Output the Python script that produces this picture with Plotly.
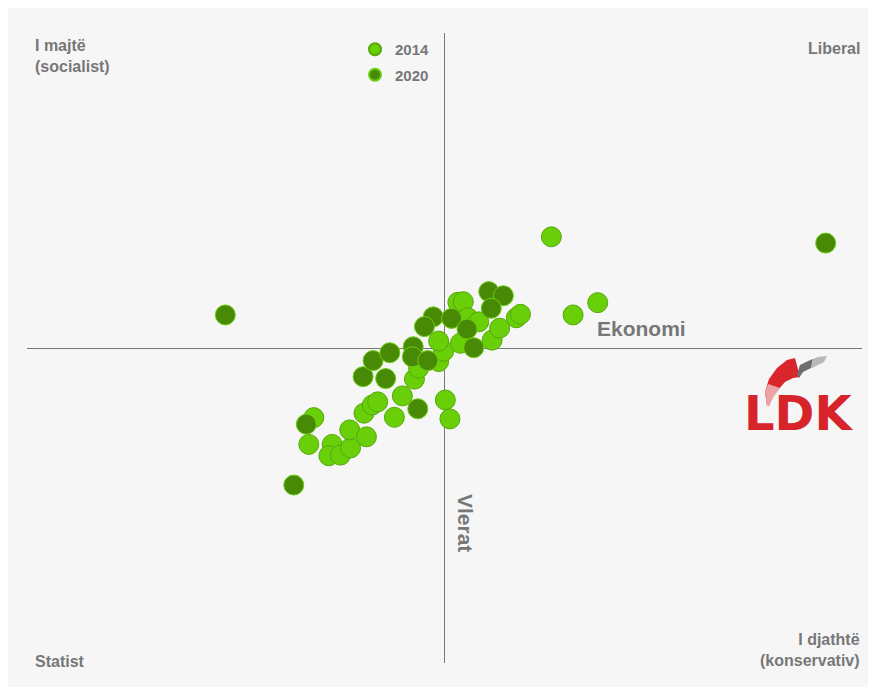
import plotly.graph_objects as go

# positions on the two axes (Ekonomi = x, Vlerat = y), scale -10..10
x_2014 = [-3.13, -3.25, -2.69, -2.77, -2.49, -2.25, -2.27, -1.87, -1.93, -1.73,
          -1.60, -1.20, -1.01, -0.72, -0.62, -0.14, -0.02, -0.14, 0.02, 0.13,
          0.32, 0.45, 0.56, 0.82, 0.38, 1.14, 1.32, 1.72, 1.82, 2.56, 3.08, 3.67]
y_2014 = [-2.21, -3.06, -3.06, -3.42, -3.40, -3.17, -2.60, -2.82, -2.07, -1.81,
          -1.71, -2.20, -1.52, -0.99, -0.64, -0.43, -0.10, 0.22, -1.65, -2.25,
          1.45, 1.47, 0.96, 0.83, 0.15, 0.25, 0.63, 0.96, 1.07, 3.53, 1.05, 1.44]

x_2020 = [-5.25, -3.61, -3.31, -1.95, -1.71, -1.31, -1.41, -0.75, -0.77, -0.40,
          -0.64, -0.27, -0.48, 0.17, 0.54, 0.70, 1.06, 1.41, 1.12, 9.13]
y_2020 = [1.05, -4.35, -2.42, -0.91, -0.40, -0.15, -0.97, 0.04, -0.28, -0.40,
          -1.93, 0.99, 0.68, 0.94, 0.60, 0.01, 1.79, 1.66, 1.26, 3.33]

years = ["2014", "2020"]
fills = ["#68cf08", "#488a06"]
edges = ["#56a80a", "#6acd10"]

# page body has an 8px margin, so the figure is a little smaller than the window
OFF = 8
W, H = 876 - OFF, 687 - OFF
# plot area in window pixels: 27..862 across, 33..663 down
X0, X1, Y0, Y1 = 27, 862, 33, 663
ML, MR, MT, MB = X0 - OFF, W - (X1 - OFF), Y0 - OFF, H - (Y1 - OFF)
GREY = "#777777"


def px(xs):
    return (xs - X0) / (X1 - X0)


def py(ys):
    return (Y1 - ys) / (Y1 - Y0)


def poly(points):
    s = "M " + " L ".join(f"{px(a):.5f},{py(b):.5f}" for a, b in points)
    return s + " Z"


fig = go.Figure()
for name, xs, ys, fc, lc in zip(years, [x_2014, x_2020], [y_2014, y_2020], fills, edges):
    fig.add_trace(go.Scatter(
        x=xs, y=ys, mode="markers", name=name, legendgroup=name,
        marker=dict(size=20, color=fc, line=dict(color=lc, width=1)),
    ))

shapes = [
    # grey panel
    dict(type="rect", xref="paper", yref="paper", x0=px(3), x1=px(880),
         y0=py(700), y1=py(6), fillcolor="#f6f6f6", line_width=0, layer="below"),
    # LDK swoosh
    dict(type="path", xref="paper", yref="paper", line_width=0, fillcolor="#d9262c",
         path=poly([(767, 406), (765, 392), (769, 379), (777, 368), (787, 360), (795, 358),
                    (800, 377), (793, 378), (785, 382), (778, 390), (772, 398), (769, 406)])),
    dict(type="path", xref="paper", yref="paper", line_width=0, fillcolor="#eba3a3",
         path=poly([(767, 406), (765, 392), (768, 384), (780, 388), (774, 396), (769, 406)])),
    dict(type="path", xref="paper", yref="paper", line_width=0, fillcolor="#6e6e6e",
         path=poly([(797, 374), (800, 365), (808, 361), (813, 359), (811, 368), (803, 372), (799, 378)])),
    dict(type="path", xref="paper", yref="paper", line_width=0, fillcolor="#b8b8b8",
         path=poly([(813, 359), (818, 357), (827, 356), (824, 362), (812, 368), (811, 368)])),
]

bold = dict(family="Liberation Sans", size=16, color=GREY, weight="bold")
annotations = [
    dict(text="I majtë<br>(socialist)", x=px(33), y=py(56), xanchor="left", align="left"),
    dict(text="Liberal", x=px(862), y=py(48), xanchor="right"),
    dict(text="Statist", x=px(33), y=py(661), xanchor="left"),
    dict(text="I djathtë<br>(konservativ)", x=px(862), y=py(650), xanchor="right", align="right"),
]
for a in annotations:
    a.update(xref="paper", yref="paper", yanchor="middle", showarrow=False, font=bold)

annotations += [
    dict(text="Ekonomi", x=px(641), y=py(328), xanchor="center",
         font=dict(family="Liberation Sans", size=21, color=GREY, weight="bold")),
    dict(text="Vlerat", x=px(466), y=py(523), xanchor="center", textangle=90,
         font=dict(family="Liberation Sans", size=21, color=GREY, weight="bold")),
    dict(text="LDK", x=px(798), y=py(413), xanchor="center",
         font=dict(family="DejaVu Sans", size=48, color="#d7242b", weight="bold")),
]
for a in annotations[-3:]:
    a.update(xref="paper", yref="paper", yanchor="middle", showarrow=False)

axis = dict(range=[-10, 10], showgrid=False, showticklabels=False, ticks="",
            zeroline=True, zerolinecolor=GREY, zerolinewidth=1, fixedrange=True)

fig.update_layout(
    width=W, height=H,
    margin=dict(l=ML, r=MR, t=MT, b=MB),
    paper_bgcolor="white", plot_bgcolor="#f6f6f6",
    xaxis=axis, yaxis=axis,
    shapes=shapes, annotations=annotations,
    showlegend=True,
    legend=dict(x=px(355), y=py(33), xanchor="left", yanchor="top",
                bgcolor="rgba(0,0,0,0)", traceorder="grouped", tracegroupgap=3,
                itemsizing="constant", itemwidth=30,
                font=dict(family="Liberation Sans", size=15, color=GREY, weight="bold")),
)

fig.write_html("out.html")
